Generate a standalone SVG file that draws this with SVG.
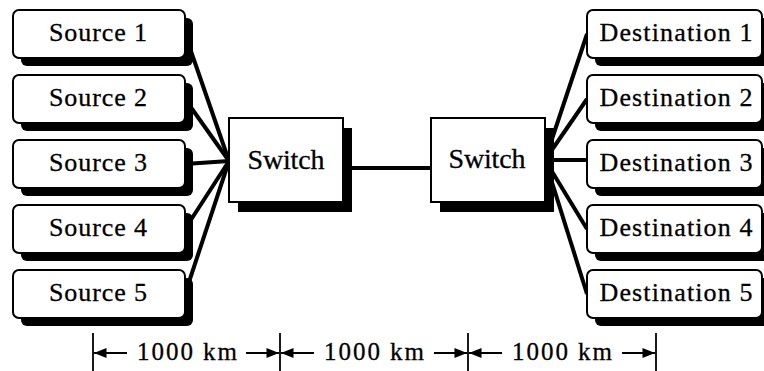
<svg xmlns="http://www.w3.org/2000/svg" width="764" height="371" viewBox="0 0 764 371">
  <style>
    .box { fill: #ffffff; stroke: #000000; stroke-width: 2; }
    .shadow { fill: #000000; stroke: none; }
    text { font-family: "Liberation Serif", Tinos, "Noto Serif", "DejaVu Serif", "Times New Roman", Times, serif; fill: #000000; stroke: #000000; stroke-width: 0.3; text-anchor: middle; }
    .lbl { font-size: 26px; }
    .sw { font-size: 28px; }
    .dim { font-size: 25px; }
    .link { stroke: #000000; stroke-width: 4; fill: none; }
    .dimline { stroke: #000000; stroke-width: 1.8; fill: none; }
  </style>
  <defs>
    <marker id="ah" viewBox="0 0 10 8" refX="10" refY="4" markerWidth="14" markerHeight="10" markerUnits="userSpaceOnUse" orient="auto-start-reverse">
      <path d="M0,0 L10,4 L0,8 Z" fill="#000000"/>
    </marker>
  </defs>
  <rect width="764" height="371" fill="#ffffff"/>

  <g id="connectors">
    <line class="link" x1="185" y1="34" x2="229" y2="161"/>
    <line class="link" x1="185" y1="99" x2="229" y2="161"/>
    <line class="link" x1="185" y1="164" x2="229" y2="161"/>
    <line class="link" x1="185" y1="229" x2="229" y2="161"/>
    <line class="link" x1="185" y1="294" x2="229" y2="161"/>
    <line class="link" x1="343" y1="168" x2="431" y2="168" stroke-width="4.5"/>
    <line class="link" x1="545" y1="160" x2="587" y2="34"/>
    <line class="link" x1="545" y1="160" x2="587" y2="99"/>
    <line class="link" x1="545" y1="160" x2="587" y2="160"/>
    <line class="link" x1="545" y1="160" x2="587" y2="229"/>
    <line class="link" x1="545" y1="160" x2="587" y2="294"/>
  </g>

  <g id="source1">
    <rect class="shadow" x="21" y="18" width="172" height="48" rx="6"/>
    <rect class="box" x="13" y="10" width="172" height="48" rx="6"/>
    <text class="lbl" x="98" y="41" textLength="98" lengthAdjust="spacing">Source 1</text>
  </g>
  <g id="source2">
    <rect class="shadow" x="21" y="83" width="172" height="48" rx="6"/>
    <rect class="box" x="13" y="75" width="172" height="48" rx="6"/>
    <text class="lbl" x="98" y="106" textLength="98" lengthAdjust="spacing">Source 2</text>
  </g>
  <g id="source3">
    <rect class="shadow" x="21" y="148" width="172" height="48" rx="6"/>
    <rect class="box" x="13" y="140" width="172" height="48" rx="6"/>
    <text class="lbl" x="98" y="171" textLength="98" lengthAdjust="spacing">Source 3</text>
  </g>
  <g id="source4">
    <rect class="shadow" x="21" y="213" width="172" height="48" rx="6"/>
    <rect class="box" x="13" y="205" width="172" height="48" rx="6"/>
    <text class="lbl" x="98" y="236" textLength="98" lengthAdjust="spacing">Source 4</text>
  </g>
  <g id="source5">
    <rect class="shadow" x="21" y="278" width="172" height="48" rx="6"/>
    <rect class="box" x="13" y="270" width="172" height="48" rx="6"/>
    <text class="lbl" x="98" y="301" textLength="98" lengthAdjust="spacing">Source 5</text>
  </g>

  <g id="switch1">
    <rect class="shadow" x="238" y="128" width="114" height="84"/>
    <rect class="box" x="229" y="118" width="114" height="84"/>
    <text class="sw" x="286" y="169" textLength="77" lengthAdjust="spacing">Switch</text>
  </g>
  <g id="switch2">
    <rect class="shadow" x="440" y="128" width="114" height="84"/>
    <rect class="box" x="431" y="118" width="114" height="84"/>
    <text class="sw" x="487" y="168" textLength="77" lengthAdjust="spacing">Switch</text>
  </g>

  <g id="dest1">
    <rect class="shadow" x="595" y="18" width="175" height="48" rx="6"/>
    <rect class="box" x="587" y="10" width="175" height="48" rx="6"/>
    <text class="lbl" x="676" y="41" textLength="153" lengthAdjust="spacing">Destination 1</text>
  </g>
  <g id="dest2">
    <rect class="shadow" x="595" y="83" width="175" height="48" rx="6"/>
    <rect class="box" x="587" y="75" width="175" height="48" rx="6"/>
    <text class="lbl" x="676" y="106" textLength="153" lengthAdjust="spacing">Destination 2</text>
  </g>
  <g id="dest3">
    <rect class="shadow" x="595" y="148" width="175" height="48" rx="6"/>
    <rect class="box" x="587" y="140" width="175" height="48" rx="6"/>
    <text class="lbl" x="676" y="171" textLength="153" lengthAdjust="spacing">Destination 3</text>
  </g>
  <g id="dest4">
    <rect class="shadow" x="595" y="213" width="175" height="48" rx="6"/>
    <rect class="box" x="587" y="205" width="175" height="48" rx="6"/>
    <text class="lbl" x="676" y="236" textLength="153" lengthAdjust="spacing">Destination 4</text>
  </g>
  <g id="dest5">
    <rect class="shadow" x="595" y="278" width="175" height="48" rx="6"/>
    <rect class="box" x="587" y="270" width="175" height="48" rx="6"/>
    <text class="lbl" x="676" y="301" textLength="153" lengthAdjust="spacing">Destination 5</text>
  </g>

  <g id="dimensions">
    <line class="dimline" x1="93" y1="333" x2="93" y2="371"/>
    <line class="dimline" x1="280" y1="333" x2="280" y2="371"/>
    <line class="dimline" x1="468" y1="333" x2="468" y2="371"/>
    <line class="dimline" x1="656" y1="333" x2="656" y2="371"/>

    <line class="dimline" x1="127" y1="353" x2="94" y2="353" marker-end="url(#ah)"/>
    <line class="dimline" x1="246" y1="353" x2="279" y2="353" marker-end="url(#ah)"/>
    <line class="dimline" x1="314" y1="353" x2="281" y2="353" marker-end="url(#ah)"/>
    <line class="dimline" x1="434" y1="353" x2="467" y2="353" marker-end="url(#ah)"/>
    <line class="dimline" x1="502" y1="353" x2="469" y2="353" marker-end="url(#ah)"/>
    <line class="dimline" x1="622" y1="353" x2="655" y2="353" marker-end="url(#ah)"/>

    <text class="dim" x="187" y="360" textLength="100" lengthAdjust="spacing">1000 km</text>
    <text class="dim" x="374" y="360" textLength="100" lengthAdjust="spacing">1000 km</text>
    <text class="dim" x="562" y="360" textLength="100" lengthAdjust="spacing">1000 km</text>
  </g>
</svg>
